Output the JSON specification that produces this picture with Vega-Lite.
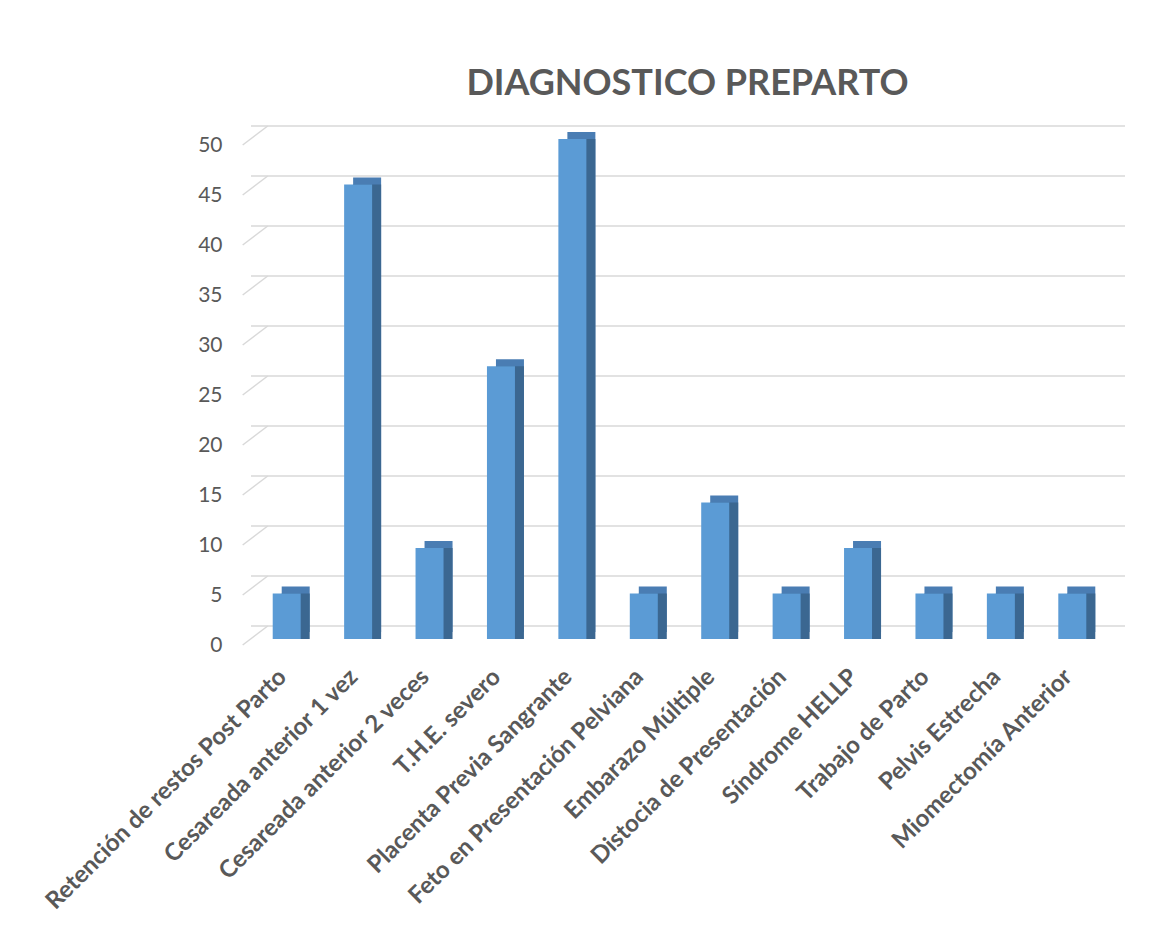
{
  "$schema": "https://vega.github.io/schema/vega-lite/v6.json",
  "autosize": "none",
  "width": 857,
  "height": 500,
  "padding": {"left": 251, "top": 139, "right": 47, "bottom": 300},
  "background": "white",
  "title": {
    "text": "DIAGNOSTICO PREPARTO",
    "font": "Lato",
    "fontSize": 36,
    "fontWeight": "bold",
    "color": "#595959",
    "anchor": "middle",
    "dx": 8,
    "offset": 22
  },
  "datasets": {
    "bars": [
      {"diagnostico": "Retención de restos Post Parto", "porcentaje": 4.55},
      {"diagnostico": "Cesareada anterior 1 vez", "porcentaje": 45.45},
      {"diagnostico": "Cesareada anterior 2 veces", "porcentaje": 9.09},
      {"diagnostico": "T.H.E. severo", "porcentaje": 27.27},
      {"diagnostico": "Placenta Previa Sangrante", "porcentaje": 50},
      {"diagnostico": "Feto en Presentación Pelviana", "porcentaje": 4.55},
      {"diagnostico": "Embarazo Múltiple", "porcentaje": 13.64},
      {"diagnostico": "Distocia de Presentación", "porcentaje": 4.55},
      {"diagnostico": "Síndrome HELLP", "porcentaje": 9.09},
      {"diagnostico": "Trabajo de Parto", "porcentaje": 4.55},
      {"diagnostico": "Pelvis Estrecha", "porcentaje": 4.55},
      {"diagnostico": "Miomectomía Anterior", "porcentaje": 4.55}
    ],
    "grid": [
      {"v": 0}, {"v": 5}, {"v": 10}, {"v": 15}, {"v": 20}, {"v": 25},
      {"v": 30}, {"v": 35}, {"v": 40}, {"v": 45}, {"v": 50}
    ]
  },
  "config": {
    "view": {"stroke": null},
    "font": "Lato"
  },
  "layer": [
    {
      "data": {"name": "grid"},
      "mark": {"type": "rule", "color": "#D9D9D9", "strokeWidth": 1.5, "xOffset": 17, "yOffset": -13},
      "encoding": {
        "y": {
          "field": "v",
          "type": "quantitative",
          "scale": {"domain": [0, 50]},
          "axis": {
            "title": null,
            "values": [0, 5, 10, 15, 20, 25, 30, 35, 40, 45, 50],
            "labelFont": "Lato",
            "labelFontSize": 21,
            "labelColor": "#595959",
            "labelOffset": 6,
            "labelPadding": 29,
            "tickSize": 0,
            "ticks": false,
            "domain": false,
            "grid": false
          }
        }
      }
    },
    {
      "data": {"name": "grid"},
      "mark": {"type": "rule", "color": "#D9D9D9", "strokeWidth": 1.5, "xOffset": -30, "x2Offset": -5, "yOffset": 6, "y2Offset": -13},
      "encoding": {
        "x": {"datum": "Retención de restos Post Parto", "bandPosition": 0, "type": "nominal"},
        "x2": {"datum": "Retención de restos Post Parto", "bandPosition": 0},
        "y": {"field": "v", "type": "quantitative"},
        "y2": {"field": "v"}
      }
    },
    {
      "data": {"name": "bars"},
      "mark": {"type": "bar", "color": "#4A7DB3", "xOffset": 9, "yOffset": -7, "y2Offset": -7},
      "encoding": {
        "x": {"field": "diagnostico", "type": "nominal", "sort": null},
        "y": {"field": "porcentaje", "type": "quantitative"}
      }
    },
    {
      "data": {"name": "bars"},
      "mark": {"type": "bar", "color": "#3B6791", "xOffset": 9, "yOffset": 0, "y2Offset": -7},
      "encoding": {
        "x": {"field": "diagnostico", "type": "nominal", "sort": null},
        "y": {"field": "porcentaje", "type": "quantitative"}
      }
    },
    {
      "data": {"name": "bars"},
      "mark": {"type": "bar", "color": "#5B9BD5"},
      "encoding": {
        "x": {
          "field": "diagnostico",
          "type": "nominal",
          "sort": null,
          "scale": {"paddingInner": 0.608, "paddingOuter": 0.304},
          "axis": {
            "title": null,
            "labelAngle": -45,
            "labelAlign": "right",
            "labelBaseline": "middle",
            "labelFont": "Lato",
            "labelFontSize": 24,
            "labelFontWeight": "bold",
            "labelColor": "#595959",
            "labelPadding": 34,
            "labelOffset": -4,
            "labelLimit": 0,
            "ticks": false,
            "domain": false,
            "grid": false
          }
        },
        "y": {"field": "porcentaje", "type": "quantitative"}
      }
    }
  ]
}
